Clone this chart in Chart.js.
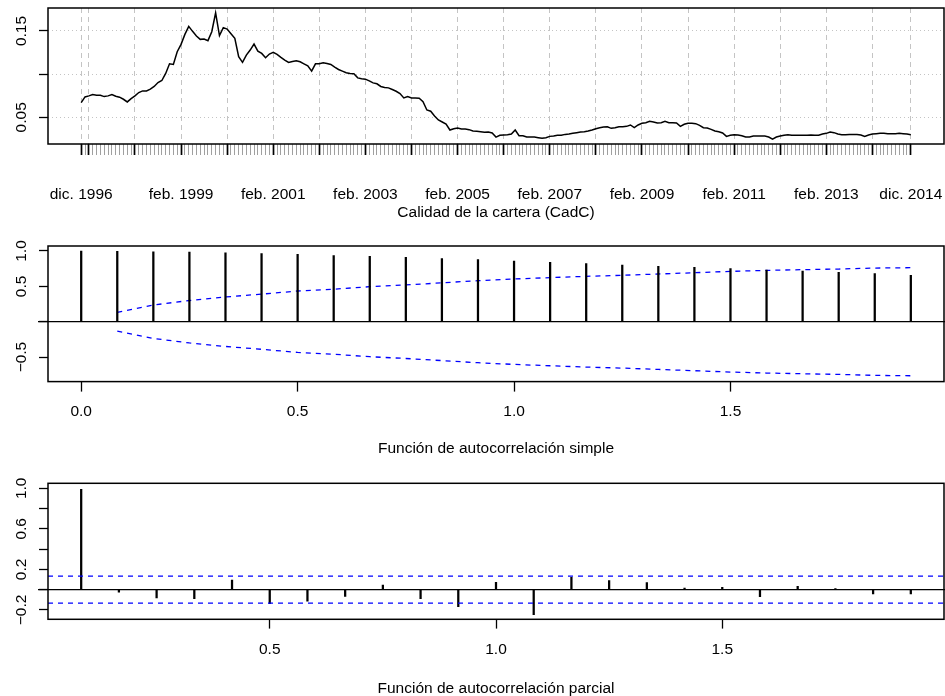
<!DOCTYPE html>
<html>
<head>
<meta charset="utf-8">
<script src="https://cdn.jsdelivr.net/npm/chart.js@4.4.1/dist/chart.umd.min.js"></script>
<style>
  html, body { margin: 0; padding: 0; background: #ffffff; }
  #wrap { position: relative; width: 945px; height: 696px; overflow: hidden; }
  #wrap canvas { position: absolute; left: 0; top: 0; }
</style>
</head>
<body>
<div id="wrap">
  <canvas id="serie" width="945" height="696"></canvas>
  <canvas id="fas" width="945" height="696"></canvas>
  <canvas id="fap" width="945" height="696"></canvas>
</div>
<script>
// ---- Calidad de la cartera (CadC), mensual, dic. 1996 - dic. 2014 ----
const cadc = [
  0.067, 0.0736, 0.0748, 0.0764, 0.0756, 0.0756, 0.074, 0.0748, 0.0764, 0.0744, 0.0733, 0.0709,
  0.0678, 0.0717, 0.0748, 0.0787, 0.0806, 0.0806, 0.0826, 0.0857, 0.0903, 0.0926, 0.1008, 0.112,
  0.1112, 0.126, 0.1345, 0.1461, 0.1554, 0.1496, 0.1442, 0.1403, 0.1407, 0.1388, 0.1492, 0.171,
  0.1446, 0.1539, 0.1523, 0.1469, 0.1415, 0.1202, 0.1136, 0.1221, 0.1279, 0.1349, 0.1267, 0.124,
  0.119, 0.1233, 0.1252, 0.1229, 0.1194, 0.1163, 0.1136, 0.1147, 0.1155, 0.1143, 0.112, 0.1097,
  0.1035, 0.112, 0.112, 0.1132, 0.1124, 0.1112, 0.1081, 0.1054, 0.1035, 0.1016, 0.1008, 0.1004,
  0.0957, 0.0946, 0.0942, 0.0922, 0.0899, 0.0888, 0.0857, 0.0845, 0.0841, 0.0822, 0.0802, 0.0775,
  0.0725, 0.074, 0.0725, 0.0725, 0.0721, 0.0682, 0.0585, 0.057, 0.0516, 0.0469, 0.0446, 0.0422,
  0.0353, 0.0368, 0.0376, 0.0364, 0.0364, 0.0357, 0.0341, 0.0337, 0.0333, 0.0326, 0.0329, 0.0318,
  0.0271, 0.0291, 0.0295, 0.0298, 0.0306, 0.0353, 0.0287, 0.0287, 0.0271, 0.0271, 0.0271, 0.0264,
  0.0256, 0.0264, 0.0279, 0.0283, 0.0291, 0.0291, 0.0302, 0.0306, 0.0314, 0.0322, 0.0329, 0.0333,
  0.0341, 0.0353, 0.0368, 0.038, 0.0388, 0.0391, 0.0372, 0.038, 0.0391, 0.0391, 0.0395, 0.0411,
  0.038, 0.0411, 0.043, 0.0438, 0.0453, 0.0446, 0.0434, 0.0438, 0.0453, 0.0438, 0.0438, 0.0434,
  0.0395, 0.0419, 0.043, 0.043, 0.0426, 0.0407, 0.038, 0.0376, 0.036, 0.0341, 0.0333, 0.0318,
  0.0279, 0.0291, 0.0298, 0.0295, 0.0287, 0.0271, 0.0271, 0.0283, 0.0283, 0.0283, 0.0283, 0.0271,
  0.0248, 0.0271, 0.0283, 0.0291, 0.0298, 0.0291, 0.0291, 0.0291, 0.0291, 0.0291, 0.0295, 0.0291,
  0.0291, 0.0306, 0.0314, 0.0329, 0.0322, 0.0306, 0.0298, 0.0298, 0.0302, 0.0302, 0.0302, 0.0295,
  0.0279, 0.0295, 0.0306, 0.031, 0.0314, 0.0314, 0.031, 0.031, 0.031, 0.0314, 0.031, 0.0306,
  0.0298
];
// month index 0 = dic. 1996; major ticks at each February plus both ends
const majorMonths = [0, 2, 14, 26, 38, 50, 62, 74, 86, 98, 110, 122, 134, 146, 158, 170, 182, 194, 206, 216];
const dateLabelMonths = [0, 26, 50, 74, 98, 122, 146, 170, 194, 216];
const dateLabels = ['dic. 1996', 'feb. 1999', 'feb. 2001', 'feb. 2003', 'feb. 2005',
                    'feb. 2007', 'feb. 2009', 'feb. 2011', 'feb. 2013', 'dic. 2014'];
const serieYTicks = [0.05, 0.10, 0.15];
const serieYLabels = ['0.05', '', '0.15'];

// ---- Función de autocorrelación simple (retardos 0..23 meses) ----
const acfLagMonths = [0, 1, 2, 3, 4, 5, 6, 7, 8, 9, 10, 11, 12, 13, 14, 15, 16, 17, 18, 19, 20, 21, 22, 23];
const acfValues = [1.0, 0.995, 0.99, 0.984, 0.974, 0.962, 0.953, 0.934, 0.925, 0.910, 0.892, 0.877,
                   0.858, 0.840, 0.821, 0.802, 0.783, 0.769, 0.750, 0.731, 0.717, 0.698, 0.679, 0.656];
// Bartlett band, retardos 1..23
const acfBand = [0.132, 0.236, 0.30, 0.35, 0.39, 0.434, 0.46, 0.495, 0.52, 0.55, 0.58, 0.604,
                 0.623, 0.642, 0.656, 0.675, 0.693, 0.712, 0.726, 0.736, 0.745, 0.759, 0.764];
const acfXTicks = [0, 0.5, 1.0, 1.5];
const acfXLabels = ['0.0', '0.5', '1.0', '1.5'];
const acfYTicks = [-0.5, 0, 0.5, 1.0];
const acfYLabels = ['\u22120.5', '', '0.5', '1.0'];

// ---- Función de autocorrelación parcial (retardos 1..23 meses) ----
const pacfLagMonths = [1, 2, 3, 4, 5, 6, 7, 8, 9, 10, 11, 12, 13, 14, 15, 16, 17, 18, 19, 20, 21, 22, 23];
const pacfValues = [0.99, -0.026, -0.082, -0.089, 0.095, -0.138, -0.115, -0.066, 0.046, -0.089, -0.167, 0.072,
                    -0.246, 0.121, 0.089, 0.069, 0.016, 0.023, -0.069, 0.033, 0.01, -0.043, -0.043];
const pacfLimit = 0.133;
const pacfXTicks = [0.5, 1.0, 1.5];
const pacfXLabels = ['0.5', '1.0', '1.5'];
const pacfYTicks = [-0.2, 0, 0.2, 0.4, 0.6, 0.8, 1.0];
const pacfYLabels = ['\u22120.2', '', '0.2', '', '0.6', '', '1.0'];

// ---- shared styling ----
const FONT = '"Liberation Sans", Arial, Helvetica, sans-serif';
const FS = 15.5;
const BLUE = '#0000ff';
const GRID = '#c4c4c4';

function fixedTicks(values) {
  return (scale) => { scale.ticks = values.map(v => ({ value: v })); };
}

// frame, rotated y labels, axis title, optional zero line and limits
function framePlugin(cfg) {
  return {
    id: 'rframe',
    afterDatasetsDraw(chart) {
      const ctx = chart.ctx, a = chart.chartArea, ys = chart.scales.y;
      ctx.save();
      if (cfg.limits) {
        ctx.strokeStyle = BLUE; ctx.lineWidth = 1.3; ctx.setLineDash([5, 5]);
        cfg.limits.forEach(v => {
          const py = ys.getPixelForValue(v);
          ctx.beginPath(); ctx.moveTo(a.left, py); ctx.lineTo(a.right, py); ctx.stroke();
        });
        ctx.setLineDash([]);
      }
      if (cfg.zeroLine) {
        const py = ys.getPixelForValue(0);
        ctx.strokeStyle = '#000'; ctx.lineWidth = 1.3;
        ctx.beginPath(); ctx.moveTo(38, py); ctx.lineTo(945, py); ctx.stroke();
      }
      ctx.strokeStyle = '#000'; ctx.lineWidth = 1.5;
      ctx.strokeRect(a.left, a.top, a.right - a.left, a.bottom - a.top);
      ctx.fillStyle = '#000';
      ctx.font = FS + 'px ' + FONT;
      ctx.textAlign = 'center';
      ctx.textBaseline = 'alphabetic';
      cfg.yTicks.forEach((v, k) => {
        const lab = cfg.yLabels[k];
        if (!lab) return;
        const py = ys.getPixelForValue(v);
        ctx.save();
        ctx.translate(25.5, py);
        ctx.rotate(-Math.PI / 2);
        ctx.fillText(lab, 0, 0);
        ctx.restore();
      });
      ctx.fillText(cfg.title, (a.left + a.right) / 2, cfg.titleBaseline);
      ctx.restore();
    }
  };
}

function yAxis(min, max, ticks, gridOn) {
  return {
    type: 'linear', min, max, offset: false,
    afterBuildTicks: fixedTicks(ticks),
    afterFit: (s) => { s.width = 48; s.paddingTop = 0; s.paddingBottom = 0; },
    ticks: { display: false },
    grid: {
      drawOnChartArea: gridOn, drawTicks: true, tickLength: 9,
      color: GRID, lineWidth: 1, tickColor: '#000', tickWidth: 1.3, tickBorderDash: []
    },
    border: { display: false, dash: [1, 3] }
  };
}

function xAxis(min, max, ticks, labels, tickLen, pad) {
  return {
    type: 'linear', min, max, offset: false,
    afterBuildTicks: fixedTicks(ticks),
    afterFit: (s) => { s.height = 60; s.paddingLeft = 0; s.paddingRight = 0; },
    ticks: {
      autoSkip: false, maxRotation: 0, minRotation: 0, padding: pad,
      color: '#000', font: { family: FONT, size: FS },
      callback: (v) => { const k = ticks.indexOf(v); return k >= 0 ? labels[k] : ''; }
    },
    grid: {
      offset: false, drawOnChartArea: false, drawTicks: true, tickLength: tickLen,
      tickColor: '#000', tickWidth: 1.3, tickBorderDash: []
    },
    border: { display: false }
  };
}

const common = {
  responsive: false, animation: false, devicePixelRatio: 1, events: [],
  plugins: { legend: { display: false }, tooltip: { enabled: false }, title: { display: false } }
};

// ---- panel 1: serie temporal ----
const allMonths = cadc.map((_, i) => i);
const serieX = xAxis(-8.64, 224.64, allMonths, [], 11, 30);
serieX.ticks.callback = (v) => { const k = dateLabelMonths.indexOf(v); return k >= 0 ? dateLabels[k] : ''; };
serieX.grid = {
  offset: false, drawOnChartArea: true, drawTicks: true, tickLength: 11,
  color: (c) => majorMonths.includes(c.tick && c.tick.value) ? GRID : 'rgba(0,0,0,0)',
  lineWidth: 1,
  tickColor: (c) => majorMonths.includes(c.tick && c.tick.value) ? '#000' : '#a0a0a0',
  tickWidth: (c) => majorMonths.includes(c.tick && c.tick.value) ? 1.7 : 1,
  tickBorderDash: []
};
serieX.border = { display: false, dash: [5, 4] };

new Chart(document.getElementById('serie'), {
  type: 'line',
  data: {
    datasets: [{
      data: cadc.map((v, i) => ({ x: i, y: v })),
      borderColor: '#000', borderWidth: 1.5, pointRadius: 0, tension: 0, fill: false
    }]
  },
  options: Object.assign({}, common, {
    layout: { padding: { left: 0, right: 1, top: 8, bottom: 696 - 144 - 60 } },
    scales: { x: serieX, y: yAxis(0.01906, 0.17665, serieYTicks, true) }
  }),
  plugins: [framePlugin({
    yTicks: serieYTicks, yLabels: serieYLabels,
    title: 'Calidad de la cartera (CadC)', titleBaseline: 216.7
  })]
});

// ---- panel 2: FAS ----
new Chart(document.getElementById('fas'), {
  type: 'bar',
  data: {
    datasets: [
      {
        type: 'bar',
        data: acfLagMonths.map((m, k) => ({ x: m / 12, y: acfValues[k] })),
        backgroundColor: '#000', borderWidth: 0, barThickness: 1.6
      },
      {
        type: 'line',
        data: acfBand.map((v, k) => ({ x: acfLagMonths[k + 1] / 12, y: v })),
        borderColor: BLUE, borderWidth: 1.3, borderDash: [5, 5], pointRadius: 0, tension: 0, fill: false
      },
      {
        type: 'line',
        data: acfBand.map((v, k) => ({ x: acfLagMonths[k + 1] / 12, y: -v })),
        borderColor: BLUE, borderWidth: 1.3, borderDash: [5, 5], pointRadius: 0, tension: 0, fill: false
      }
    ]
  },
  options: Object.assign({}, common, {
    layout: { padding: { left: 0, right: 1, top: 246, bottom: 696 - 381.6 - 60 } },
    scales: {
      x: xAxis(-0.0767, 1.9933, acfXTicks, acfXLabels, 10, 11),
      y: yAxis(-0.847, 1.0707, acfYTicks, false)
    }
  }),
  plugins: [framePlugin({
    yTicks: acfYTicks, yLabels: acfYLabels, zeroLine: true,
    title: 'Función de autocorrelación simple', titleBaseline: 453
  })]
});

// ---- panel 3: FAP ----
new Chart(document.getElementById('fap'), {
  type: 'bar',
  data: {
    datasets: [{
      type: 'bar',
      data: pacfLagMonths.map((m, k) => ({ x: m / 12, y: pacfValues[k] })),
      backgroundColor: '#000', borderWidth: 0, barThickness: 1.6
    }]
  },
  options: Object.assign({}, common, {
    layout: { padding: { left: 0, right: 1, top: 483.3, bottom: 696 - 619.3 - 60 } },
    scales: {
      x: xAxis(0.01, 1.99, pacfXTicks, pacfXLabels, 9.3, 11.6),
      y: yAxis(-0.2928, 1.0494, pacfYTicks, false)
    }
  }),
  plugins: [framePlugin({
    yTicks: pacfYTicks, yLabels: pacfYLabels, zeroLine: true,
    limits: [pacfLimit, -pacfLimit],
    title: 'Función de autocorrelación parcial', titleBaseline: 692.5
  })]
});
</script>
</body>
</html>
